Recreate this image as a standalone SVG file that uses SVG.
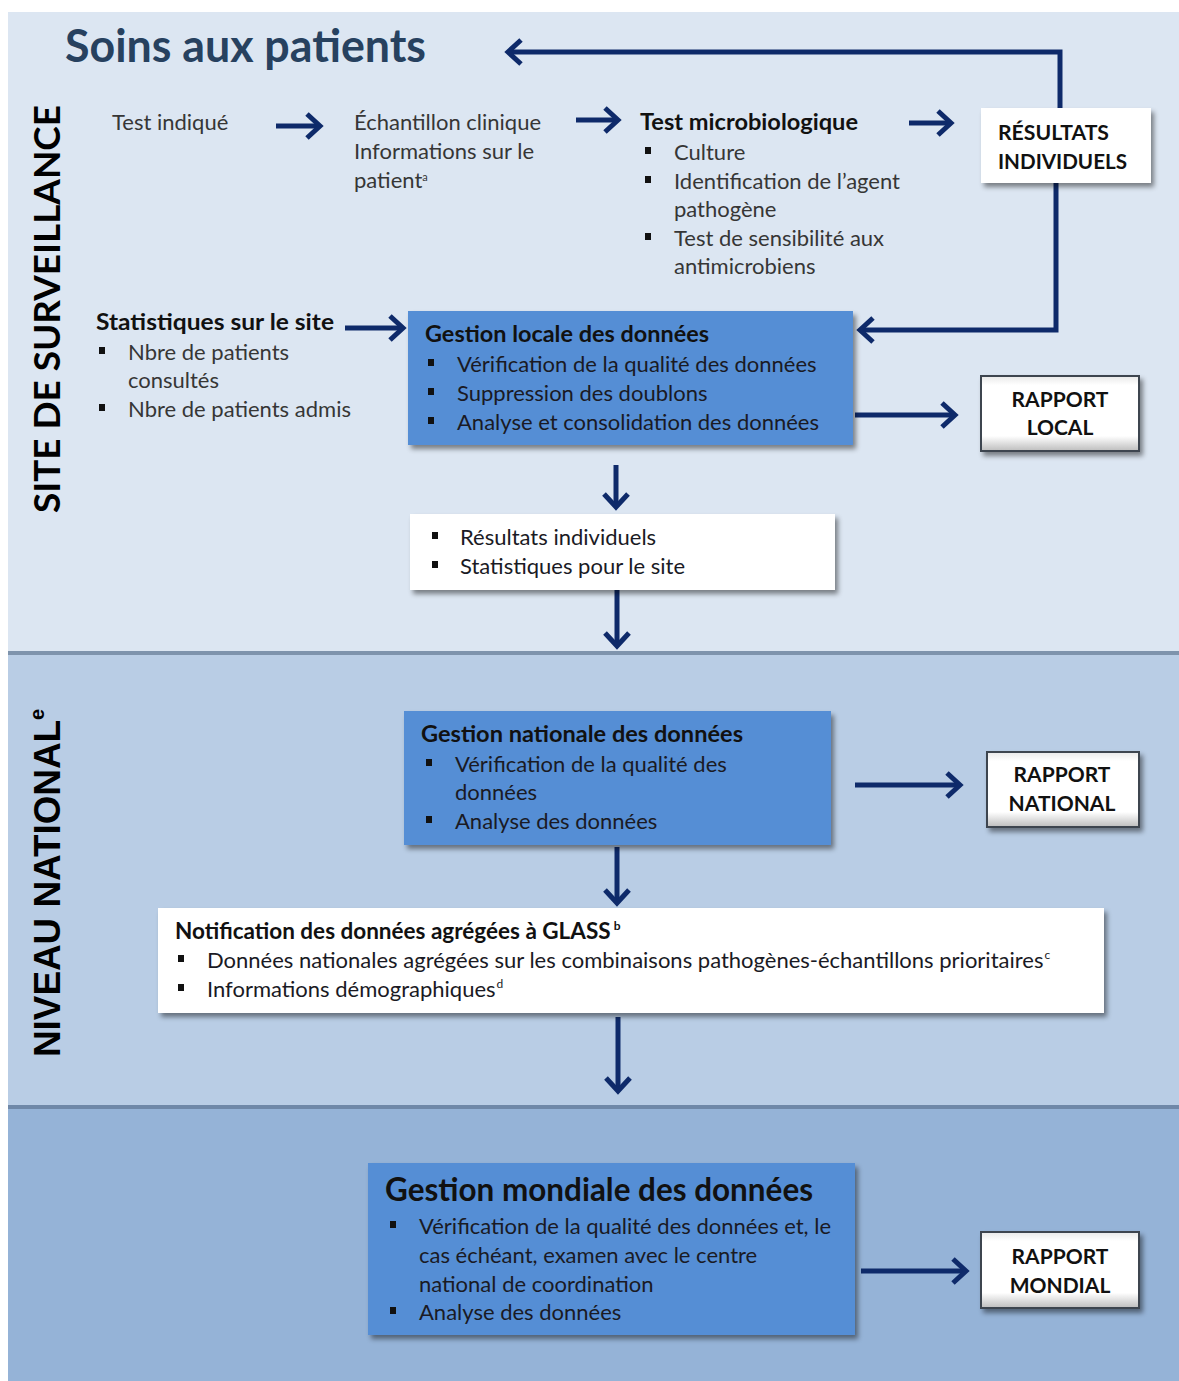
<svg xmlns="http://www.w3.org/2000/svg" width="1179" height="1381" viewBox="0 0 1179 1381">
<style>
.t{font-family:Lato,"Open Sans","Liberation Sans",sans-serif;font-size:22px;fill:#363636}
.b{font-weight:bold;fill:#111;font-size:23.5px}
.d{fill:#1a1a24}
.rp{font-family:Lato,"Liberation Sans",sans-serif;font-size:21px;font-weight:bold;fill:#111;text-anchor:middle}
.rb{font-size:21.5px}
.big{font-size:31.5px}
.gl{font-size:22.5px}
.blue{fill:#558ed5}
.white{fill:#fff}
.bul{fill:#111}
.conn{fill:none;stroke:#0e2a6a;stroke-width:5}
.rbox{fill:url(#bev);stroke:#3c4450;stroke-width:2}
</style>
<defs>
<filter id="sh" x="-10%" y="-10%" width="125%" height="130%">
<feDropShadow dx="3" dy="4" stdDeviation="2.5" flood-color="#000" flood-opacity="0.45"/>
</filter>
<linearGradient id="bev" x1="0" y1="0" x2="0" y2="1">
<stop offset="0" stop-color="#e8e8e8"/>
<stop offset="0.12" stop-color="#ffffff"/>
<stop offset="0.8" stop-color="#ffffff"/>
<stop offset="1" stop-color="#bdbdbd"/>
</linearGradient>
<marker id="ah" viewBox="0 0 20 28" refX="16" refY="14" markerWidth="20" markerHeight="28" markerUnits="userSpaceOnUse" orient="auto">
<path d="M3,2 L16,14 L3,26" fill="none" stroke="#0e2a6a" stroke-width="5"/>
</marker>
</defs>
<rect width="1179" height="1381" fill="#fff"/>
<g id="bands">
<rect x="8" y="12" width="1171" height="642" fill="#dce6f2"/>
<rect x="8" y="651" width="1171" height="4" fill="#7e93ac"/>
<rect x="8" y="655" width="1171" height="453" fill="#b9cde5"/>
<rect x="8" y="1105" width="1171" height="4" fill="#6f88a8"/>
<rect x="8" y="1109" width="1171" height="272" fill="#95b3d7"/>
</g>

<g id="labels">
<text x="65" y="62" font-family="Lato,'Liberation Sans',sans-serif" font-size="45" font-weight="bold" fill="#27415f" textLength="361" lengthAdjust="spacingAndGlyphs">Soins aux patients</text>
<text transform="translate(60,513) rotate(-90)" font-family="Lato,'Liberation Sans',sans-serif" font-size="37" font-weight="bold" fill="#000" textLength="408" lengthAdjust="spacingAndGlyphs">SITE DE SURVEILLANCE</text>
<text transform="translate(60,1057) rotate(-90)" font-family="'Liberation Sans',Arial,sans-serif" font-size="37" font-weight="bold" fill="#000"><tspan textLength="337" lengthAdjust="spacingAndGlyphs">NIVEAU NATIONAL</tspan><tspan font-size="20" dy="-16">e</tspan></text>
</g>

<g id="connectors">
<path class="conn" d="M276,126 L320,126" marker-end="url(#ah)"/>
<path class="conn" d="M576,120 L618,120" marker-end="url(#ah)"/>
<path class="conn" d="M909,123 L951,123" marker-end="url(#ah)"/>
<path class="conn" d="M1060,108 L1060,52 L508,52" marker-end="url(#ah)"/>
<path class="conn" d="M1056,183 L1056,330 L860,330" marker-end="url(#ah)"/>
<path class="conn" d="M345,328 L403,328" marker-end="url(#ah)"/>
<path class="conn" d="M855,415 L955,415" marker-end="url(#ah)"/>
<path class="conn" d="M616,465 L616,507" marker-end="url(#ah)"/>
<path class="conn" d="M617,590 L617,646" marker-end="url(#ah)"/>
<path class="conn" d="M855,785 L960,785" marker-end="url(#ah)"/>
<path class="conn" d="M617,847 L617,903" marker-end="url(#ah)"/>
<path class="conn" d="M618,1017 L618,1091" marker-end="url(#ah)"/>
<path class="conn" d="M861,1271 L966,1271" marker-end="url(#ah)"/>
</g>

<g id="test-indique">
<text class="t" x="112" y="130">Test indiqué</text>
</g>

<g id="echantillon">
<text class="t" x="354" y="130">Échantillon clinique</text>
<text class="t" x="354" y="159">Informations sur le</text>
<text class="t" x="354" y="188">patient<tspan font-size="11" dy="-7">a</tspan></text>
</g>

<g id="test-micro">
<text class="t b" x="640" y="130" textLength="218" lengthAdjust="spacingAndGlyphs">Test microbiologique</text>
<rect class="bul" x="645" y="147" width="6" height="7"/>
<text class="t" x="674" y="160">Culture</text>
<rect class="bul" x="645" y="176" width="6" height="7"/>
<text class="t" x="674" y="189">Identification de l’agent</text>
<text class="t" x="674" y="217">pathogène</text>
<rect class="bul" x="645" y="233" width="6" height="7"/>
<text class="t" x="674" y="246">Test de sensibilité aux</text>
<text class="t" x="674" y="274">antimicrobiens</text>
</g>

<g id="resultats-individuels">
<rect class="white" x="981" y="108" width="170" height="75" filter="url(#sh)"/>
<text class="t b rb" x="998" y="140" textLength="111" lengthAdjust="spacingAndGlyphs">RÉSULTATS</text>
<text class="t b rb" x="998" y="169" textLength="129" lengthAdjust="spacingAndGlyphs">INDIVIDUELS</text>
</g>

<g id="stats-site">
<text class="t b" x="96" y="330" textLength="238" lengthAdjust="spacingAndGlyphs">Statistiques sur le site</text>
<rect class="bul" x="99" y="347" width="6" height="7"/>
<text class="t" x="128" y="360">Nbre de patients</text>
<text class="t" x="128" y="388">consultés</text>
<rect class="bul" x="99" y="404" width="6" height="7"/>
<text class="t" x="128" y="417">Nbre de patients admis</text>
</g>

<g id="gestion-locale">
<rect class="blue" x="408" y="311" width="445" height="134" filter="url(#sh)"/>
<text class="t b" x="425" y="342" textLength="284" lengthAdjust="spacingAndGlyphs">Gestion locale des données</text>
<rect class="bul" x="428" y="359" width="6" height="7"/>
<text class="t d" x="457" y="372">Vérification de la qualité des données</text>
<rect class="bul" x="428" y="388" width="6" height="7"/>
<text class="t d" x="457" y="401">Suppression des doublons</text>
<rect class="bul" x="428" y="417" width="6" height="7"/>
<text class="t d" x="457" y="430">Analyse et consolidation des données</text>
</g>

<g id="rapport-local">
<rect class="rbox" x="981" y="376" width="158" height="75" filter="url(#sh)"/>
<text class="rp" x="1060" y="407">RAPPORT</text>
<text class="rp" x="1060" y="435">LOCAL</text>
</g>

<g id="resultats-stats">
<rect class="white" x="410" y="514" width="425" height="76" filter="url(#sh)"/>
<rect class="bul" x="432" y="532" width="6" height="7"/>
<text class="t d" x="460" y="545">Résultats individuels</text>
<rect class="bul" x="432" y="561" width="6" height="7"/>
<text class="t d" x="460" y="574">Statistiques pour le site</text>
</g>

<g id="gestion-nationale">
<rect class="blue" x="404" y="711" width="427" height="134" filter="url(#sh)"/>
<text class="t b" x="421" y="742" textLength="322" lengthAdjust="spacingAndGlyphs">Gestion nationale des données</text>
<rect class="bul" x="426" y="759" width="6" height="7"/>
<text class="t d" x="455" y="772">Vérification de la qualité des</text>
<text class="t d" x="455" y="800">données</text>
<rect class="bul" x="426" y="816" width="6" height="7"/>
<text class="t d" x="455" y="829">Analyse des données</text>
</g>

<g id="rapport-national">
<rect class="rbox" x="987" y="752" width="152" height="75" filter="url(#sh)"/>
<text class="rp" x="1062" y="782">RAPPORT</text>
<text class="rp" x="1062" y="811">NATIONAL</text>
</g>

<g id="notification-glass">
<rect class="white" x="158" y="908" width="946" height="105" filter="url(#sh)"/>
<text class="t b gl" x="175" y="939">Notification des données agrégées à GLASS<tspan font-size="12" dx="3" dy="-9">b</tspan></text>
<rect class="bul" x="178" y="955" width="6" height="7"/>
<text class="t d" x="207" y="968">Données nationales agrégées sur les combinaisons pathogènes-échantillons prioritaires<tspan font-size="12" dx="1" dy="-9">c</tspan></text>
<rect class="bul" x="178" y="984" width="6" height="7"/>
<text class="t d" x="207" y="997">Informations démographiques<tspan font-size="12" dx="1" dy="-9">d</tspan></text>
</g>

<g id="gestion-mondiale">
<rect class="blue" x="368" y="1163" width="487" height="172" filter="url(#sh)"/>
<text class="t b big" x="385" y="1201" textLength="428" lengthAdjust="spacingAndGlyphs">Gestion mondiale des données</text>
<rect class="bul" x="390" y="1221" width="6" height="7"/>
<text class="t d" x="419" y="1234">Vérification de la qualité des données et, le</text>
<text class="t d" x="419" y="1263">cas échéant, examen avec le centre</text>
<text class="t d" x="419" y="1292">national de coordination</text>
<rect class="bul" x="390" y="1307" width="6" height="7"/>
<text class="t d" x="419" y="1320">Analyse des données</text>
</g>

<g id="rapport-mondial">
<rect class="rbox" x="981" y="1232" width="158" height="76" filter="url(#sh)"/>
<text class="rp" x="1060" y="1264">RAPPORT</text>
<text class="rp" x="1060" y="1293">MONDIAL</text>
</g>
</svg>
